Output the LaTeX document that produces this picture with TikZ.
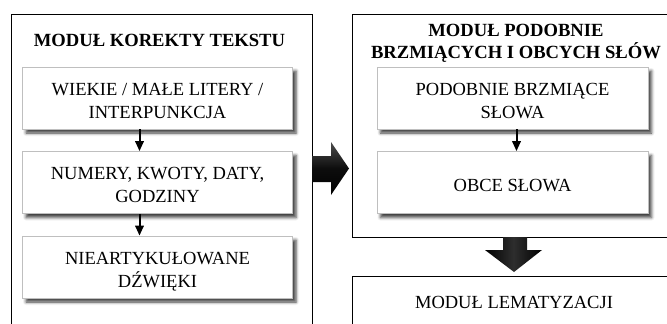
\documentclass[tikz,border=0pt]{standalone}
\usepackage{fontspec}
\setmainfont{Liberation Serif}
\usetikzlibrary{arrows.meta,shadows.blur}

% text of a stage box: fixed top and bottom struts keep the lines placed alike
\newcommand\stagetext[1]{\rule{0pt}{21.5pt}#1\rule[-4pt]{0pt}{4pt}}

\begin{document}
\begin{tikzpicture}[x=1pt,y=-1pt,
  frame/.style={draw=black,line width=1.1pt,anchor=north west,inner sep=0pt},
  stage/.style={draw=black!25,line width=0.8pt,fill=white,
    minimum width=270pt,minimum height=62pt,inner sep=0pt,align=center,
    font=\fontsize{18.5}{23}\selectfont,
    blur shadow={shadow xshift=3.5pt,shadow yshift=-4pt,
      shadow blur radius=3pt,shadow opacity=75}},
  heading/.style={inner sep=0pt,align=center,
    font=\fontsize{18.6}{22.7}\selectfont\bfseries},
  plainlabel/.style={inner sep=0pt,font=\fontsize{18.5}{23}\selectfont},
  link/.style={-{Triangle[width=8.5pt,length=10pt]},line width=2pt},
]
\useasboundingbox (0,0) rectangle (667,324);
\clip (0,0) rectangle (667,324);

% module frames (open towards the page edges)
\node[frame,minimum width=301pt,minimum height=340pt] (korekta) at (11,14) {};
\node[frame,minimum width=330pt,minimum height=223pt] (podobne) at (352,14) {};
\node[frame,minimum width=330pt,minimum height=80pt] (lemat) at (352,276) {};

% module titles
\node[heading] (korektaTitle) at (159.5,40) {MODUŁ KOREKTY TEKSTU};
\node[heading] (podobneTitle) at (516,43.2) {MODUŁ PODOBNIE\\BRZMIĄCYCH I OBCYCH SŁÓW};
\node[plainlabel] (lematTitle) at (514,302.5) {MODUŁ LEMATYZACJI};

% text correction stages
\node[stage] (case) at (157.5,98) {\stagetext{WIEKIE / MAŁE LITERY /\\INTERPUNKCJA}};
\node[stage] (numbers) at (157.5,182.5) {\stagetext{NUMERY, KWOTY, DATY,\\GODZINY}};
\node[stage] (sounds) at (157.5,267) {\stagetext{NIEARTYKUŁOWANE\\DŹWIĘKI}};

% similar-sounding and foreign word stages
\node[stage,minimum width=271pt] (similar) at (512.5,98) {\stagetext{PODOBNIE BRZMIĄCE\\SŁOWA}};
\node[stage,minimum width=271pt] (foreign) at (512.5,182.5) {\stagetext{OBCE SŁOWA}};

% arrows between stages
\draw[link] ([xshift=-18pt]case.south) -- ([xshift=-18pt]numbers.north);
\draw[link] ([xshift=-18pt]numbers.south) -- ([xshift=-18pt]sounds.north);
\draw[link] ([xshift=4pt]similar.south) -- ([xshift=4pt]foreign.north);

% block arrows between modules
\shade[top color=black!70,bottom color=black,middle color=black!95]
  (312,156) -- (331,156) -- (331,142) -- (349,168.5) -- (331,195)
  -- (331,182) -- (312,182) -- cycle;
\shade[left color=black,right color=black,middle color=black!82]
  (503,237) -- (527,237) -- (527,250) -- (542,250) -- (514,272)
  -- (485,250) -- (503,250) -- cycle;
\end{tikzpicture}
\end{document}
